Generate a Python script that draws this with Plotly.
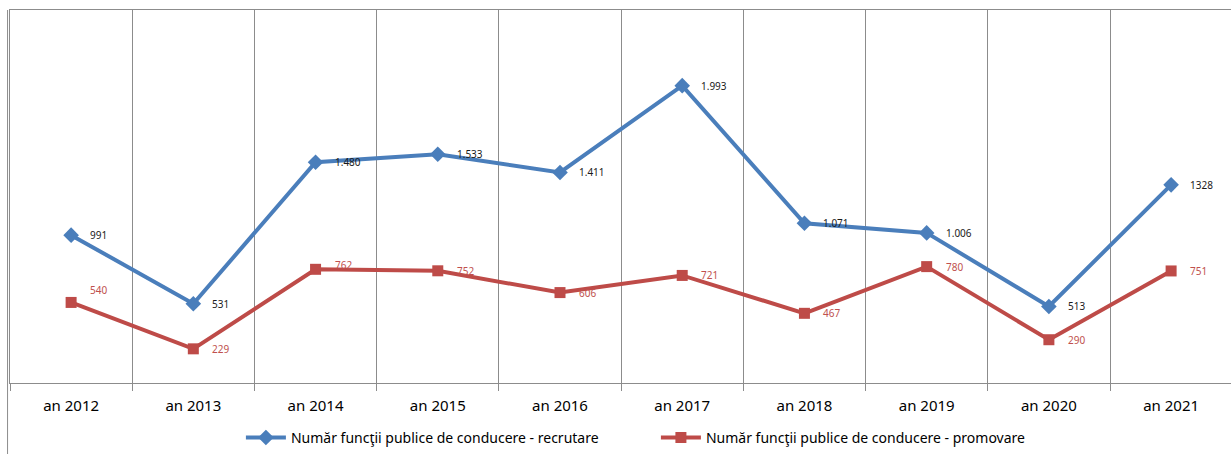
import plotly.graph_objects as go

# Categories and series values
years = ["an 2012", "an 2013", "an 2014", "an 2015", "an 2016",
         "an 2017", "an 2018", "an 2019", "an 2020", "an 2021"]
recrutare = [991, 531, 1480, 1533, 1411, 1993, 1071, 1006, 513, 1328]
promovare = [540, 229, 762, 752, 606, 721, 467, 780, 290, 751]

name_rec = "Număr funcţii publice de conducere - recrutare"
name_pro = "Număr funcţii publice de conducere - promovare"

BLUE = "#4a7ebb"
RED = "#be4b48"
GRID = "#8c8c8c"
FONT = "Noto Sans"


def fmt(v):
    return f"{v:,}".replace(",", ".")


rec_labels = [fmt(v) for v in recrutare]
rec_labels[-1] = str(recrutare[-1])  # the 2021 figure is written without separator
pro_labels = [fmt(v) for v in promovare]

# vertical nudges for a few labels (pixels)
pro_lift = {"an 2012": 12, "an 2014": 4}

fig = go.Figure()
fig.add_trace(go.Scatter(
    x=years, y=recrutare, name=name_rec, mode="lines+markers",
    line=dict(color=BLUE, width=4),
    marker=dict(symbol="diamond", size=12, color=BLUE),
))
fig.add_trace(go.Scatter(
    x=years, y=promovare, name=name_pro, mode="lines+markers",
    line=dict(color=RED, width=4),
    marker=dict(symbol="square", size=11, color=RED),
))

annotations = []
for x, y, t in zip(years, recrutare, rec_labels):
    annotations.append(dict(x=x, y=y, text=t, showarrow=False, xanchor="left",
                            yanchor="middle", xshift=17,
                            font=dict(family=FONT, size=10, color="#1a1a1a")))
for x, y, t in zip(years, promovare, pro_labels):
    annotations.append(dict(x=x, y=y, text=t, showarrow=False, xanchor="left",
                            yanchor="middle", xshift=17, yshift=pro_lift.get(x, 0),
                            font=dict(family=FONT, size=10, color="#c0504d")))

fig.update_layout(
    width=1231, height=454,
    margin=dict(l=10, r=0, t=10, b=71),
    paper_bgcolor="white", plot_bgcolor="white",
    font=dict(family=FONT, color="#000000"),
    showlegend=True,
    legend=dict(orientation="h", x=0.529, xanchor="center", y=-0.147, yanchor="middle",
                font=dict(family=FONT, size=14, color="#000000"),
                itemwidth=40, entrywidth=360, traceorder="normal"),
    annotations=annotations,
    shapes=[dict(type="line", xref="paper", yref="paper",
                 x0=-0.002, x1=-0.002, y0=1, y1=-0.2,
                 line=dict(color=GRID, width=1))],
)
fig.update_xaxes(
    type="category", range=[-0.5, 9.49],
    tickson="boundaries", ticks="outside", ticklen=7, tickcolor=GRID,
    showgrid=True, gridcolor=GRID, gridwidth=1,
    showline=True, linecolor=GRID, linewidth=1, mirror=True,
    tickfont=dict(family=FONT, size=15, color="#000000"),
    ticklabelstandoff=9,
    zeroline=False,
)
fig.update_yaxes(
    range=[0, 2500], showgrid=False, showticklabels=False, ticks="",
    showline=True, linecolor=GRID, linewidth=1, zeroline=False,
)

fig.write_html("out.html")
